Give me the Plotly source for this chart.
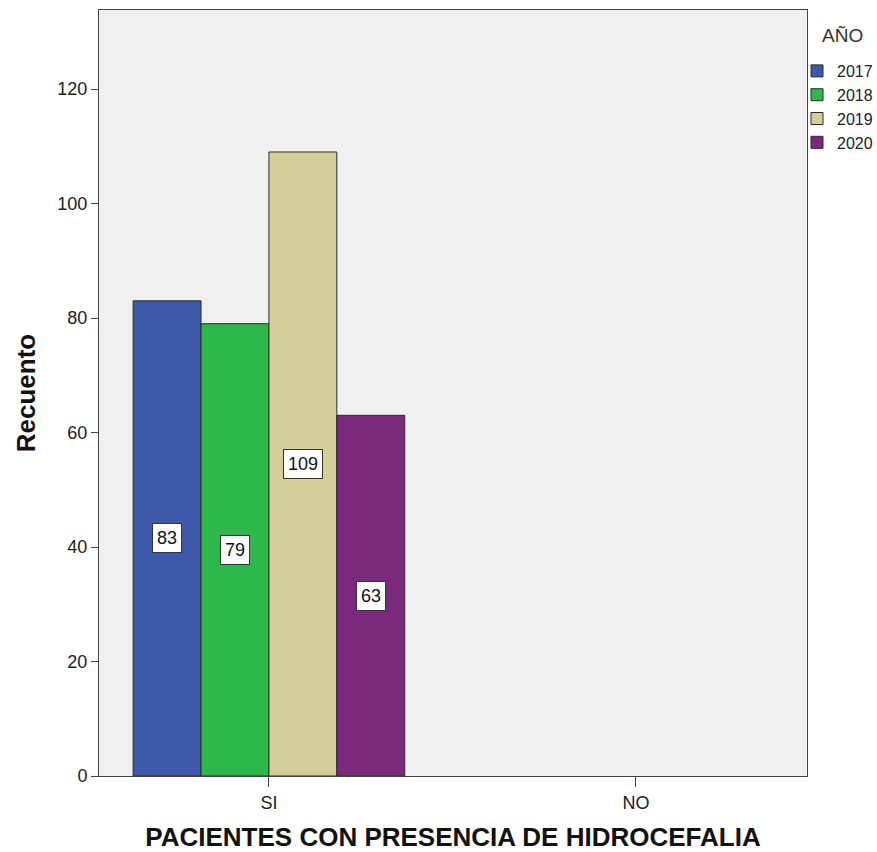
import plotly.graph_objects as go

categories = ["SI", "NO"]
years = ["2017", "2018", "2019", "2020"]
values = {
    "2017": [83, 0],
    "2018": [79, 0],
    "2019": [109, 0],
    "2020": [63, 0],
}
colors = {
    "2017": "#3e58ac",
    "2018": "#2eb84a",
    "2019": "#d4cf98",
    "2020": "#7b2a7b",
}
FONT = "Liberation Sans, Arial"

bargap = 0.26
fig = go.Figure()
for y in years:
    fig.add_trace(go.Bar(
        name=y, x=categories, y=values[y],
        marker=dict(color=colors[y],
                    line=dict(color="#2a2a2a", width=[1 if v > 0 else 0 for v in values[y]])),
    ))

n = len(years)
bw = (1 - bargap) / n
for i, y in enumerate(years):
    for ci, c in enumerate(categories):
        v = values[y][ci]
        if v > 0:
            fig.add_annotation(
                x=ci + (i - (n - 1) / 2) * bw, y=v / 2, xref="x", yref="y",
                text=str(v), showarrow=False,
                font=dict(family=FONT, size=18, color="#111"),
                bgcolor="white", bordercolor="#333", borderwidth=1, borderpad=4,
            )

# legend title as text
fig.add_annotation(
    x=(820 - 99) / 708, y=1 - (35 - 10) / 766, xref="paper", yref="paper",
    text="AÑO", showarrow=False, xanchor="left", yanchor="middle",
    font=dict(family=FONT, size=19, color="#333"),
)

fig.update_layout(
    width=877, height=852,
    margin=dict(l=99, r=70, t=10, b=76, autoexpand=False),
    paper_bgcolor="white", plot_bgcolor="#f0f0f0",
    barmode="group", bargap=bargap, bargroupgap=0,
    font=dict(family=FONT, size=18, color="#222"),
    showlegend=True,
    legend=dict(
        x=(797 - 99) / 708, xanchor="left", y=1 - (54 - 10) / 766, yanchor="top",
        font=dict(family=FONT, size=16, color="#222"),
        tracegroupgap=0, itemwidth=30,
        bgcolor="rgba(0,0,0,0)",
    ),
    xaxis=dict(
        type="category", range=[-0.463, 1.466],
        showline=True, linecolor="#444", linewidth=1, mirror=True,
        ticks="outside", ticklen=10, tickcolor="#444",
        tickfont=dict(family=FONT, size=18, color="#222"),
        title=dict(text="<b>PACIENTES CON PRESENCIA DE HIDROCEFALIA</b>",
                   font=dict(family=FONT, size=26, color="#111"), standoff=20),
        showgrid=False,
    ),
    yaxis=dict(
        range=[0, 133.8], tickvals=[0, 20, 40, 60, 80, 100, 120],
        showline=True, linecolor="#444", linewidth=1, mirror=True,
        ticks="outside", ticklen=7, tickcolor="#444",
        tickfont=dict(family=FONT, size=18, color="#222"),
        title=dict(text="<b>Recuento</b>", font=dict(family=FONT, size=26, color="#111"), standoff=14),
        showgrid=False, zeroline=False,
    ),
)

fig.write_html("out.html")
